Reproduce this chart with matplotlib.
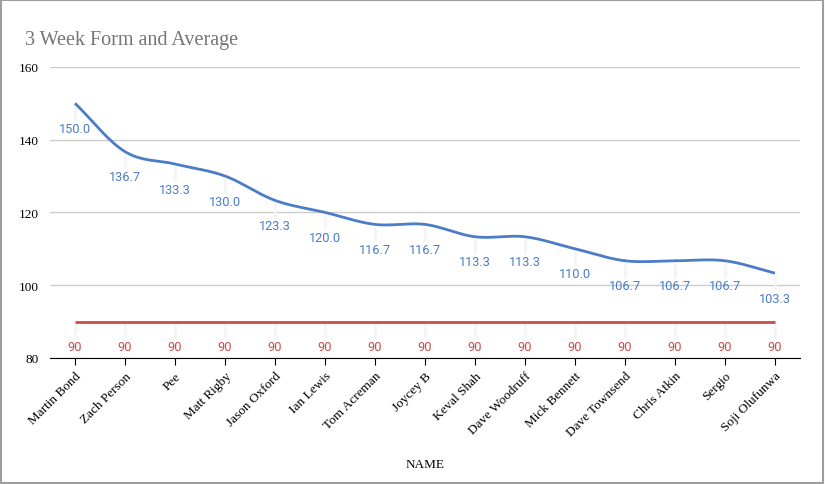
import numpy as np
import matplotlib
matplotlib.use("Agg")
import matplotlib.pyplot as plt
from matplotlib.patches import Rectangle

names = ["Martin Bond", "Zach Person", "Pee", "Matt Rigby", "Jason Oxford", "Ian Lewis",
         "Tom Acreman", "Joycey B", "Keval Shah", "Dave Woodruff", "Mick Bennett",
         "Dave Townsend", "Chris Atkin", "Sergio", "Soji Olufunwa"]
form = [150.0, 136.7, 133.3, 130.0, 123.3, 120.0, 116.7, 116.7, 113.3, 113.3, 110.0,
        106.7, 106.7, 106.7, 103.3]
average = [90] * len(names)

blue = "#4a7cc7"
red = "#cc4b4b"


def smooth(x, y, n=30):
    # catmull-rom through the points, like the sheets "smooth" line
    x = np.asarray(x, float)
    y = np.asarray(y, float)
    px = np.concatenate([[2 * x[0] - x[1]], x, [2 * x[-1] - x[-2]]])
    py = np.concatenate([[2 * y[0] - y[1]], y, [2 * y[-1] - y[-2]]])
    xs, ys = [], []
    t = np.linspace(0, 1, n)
    for i in range(1, len(px) - 2):
        for p, out in ((px, xs), (py, ys)):
            p0, p1, p2, p3 = p[i - 1], p[i], p[i + 1], p[i + 2]
            out.extend(0.5 * (2 * p1 + (-p0 + p2) * t + (2 * p0 - 5 * p1 + 4 * p2 - p3) * t ** 2
                              + (-p0 + 3 * p1 - 3 * p2 + p3) * t ** 3))
    return np.array(xs), np.array(ys)


fig = plt.figure(figsize=(8.25, 4.85), dpi=100)
ax = fig.add_axes([0.0606, 0.26, 0.9091, 0.60])
serif = "Liberation Serif"

x = np.arange(len(names))
sx, sy = smooth(x, form)

# faint leaders from point to label
ax.vlines(x, np.array(form) - 0.6, np.array(form) - 4.6, color="#f4f4f4", lw=2, zorder=1)
ax.vlines(x, np.array(average) - 0.6, np.array(average) - 4.6, color="#f4f4f4", lw=2, zorder=1)

ax.plot(sx, sy, color=blue, lw=2, zorder=3, solid_capstyle="butt")
ax.plot(x, average, color=red, lw=2, zorder=3, solid_capstyle="butt")

for xi, v in zip(x, form):
    ax.annotate(f"{v:.1f}", (xi, v), xytext=(0, -18), textcoords="offset points",
                ha="center", va="center", color=blue, fontsize=9.2, family="Roboto", zorder=4)
for xi, v in zip(x, average):
    ax.annotate(f"{v}", (xi, v), xytext=(0, -18), textcoords="offset points",
                ha="center", va="center", color=red, fontsize=9.2, family="Roboto", zorder=4)

ax.set_xlim(-0.5, len(names) - 0.5)
ax.set_ylim(80, 160)
ax.set_yticks([80, 100, 120, 140, 160])
ax.yaxis.grid(True, color="#cccccc", lw=1)
ax.set_axisbelow(True)
for s in ["left", "right", "top"]:
    ax.spines[s].set_visible(False)
ax.spines["bottom"].set_color("black")
ax.spines["bottom"].set_zorder(5)
ax.tick_params(axis="y", length=0, pad=8, labelsize=9.5)
ax.tick_params(axis="x", length=5, color="black", labelsize=9.5)
ax.set_xticks(x)
ax.set_xticklabels(names, rotation=45, ha="right", rotation_mode="anchor", family=serif)
for lab in ax.get_yticklabels():
    lab.set_family(serif)
ax.set_xlabel("NAME", family=serif, fontsize=9.5, labelpad=14)

fig.text(0.03, 0.916, "3 Week Form and Average", family=serif, fontsize=14.5, color="#757575",
         va="center")
fig.patches.append(Rectangle((0.001, 0.002), 0.997, 0.995, transform=fig.transFigure,
                             fill=False, edgecolor="#9e9e9e", lw=1.5))

fig.savefig("out.png", dpi=100)
